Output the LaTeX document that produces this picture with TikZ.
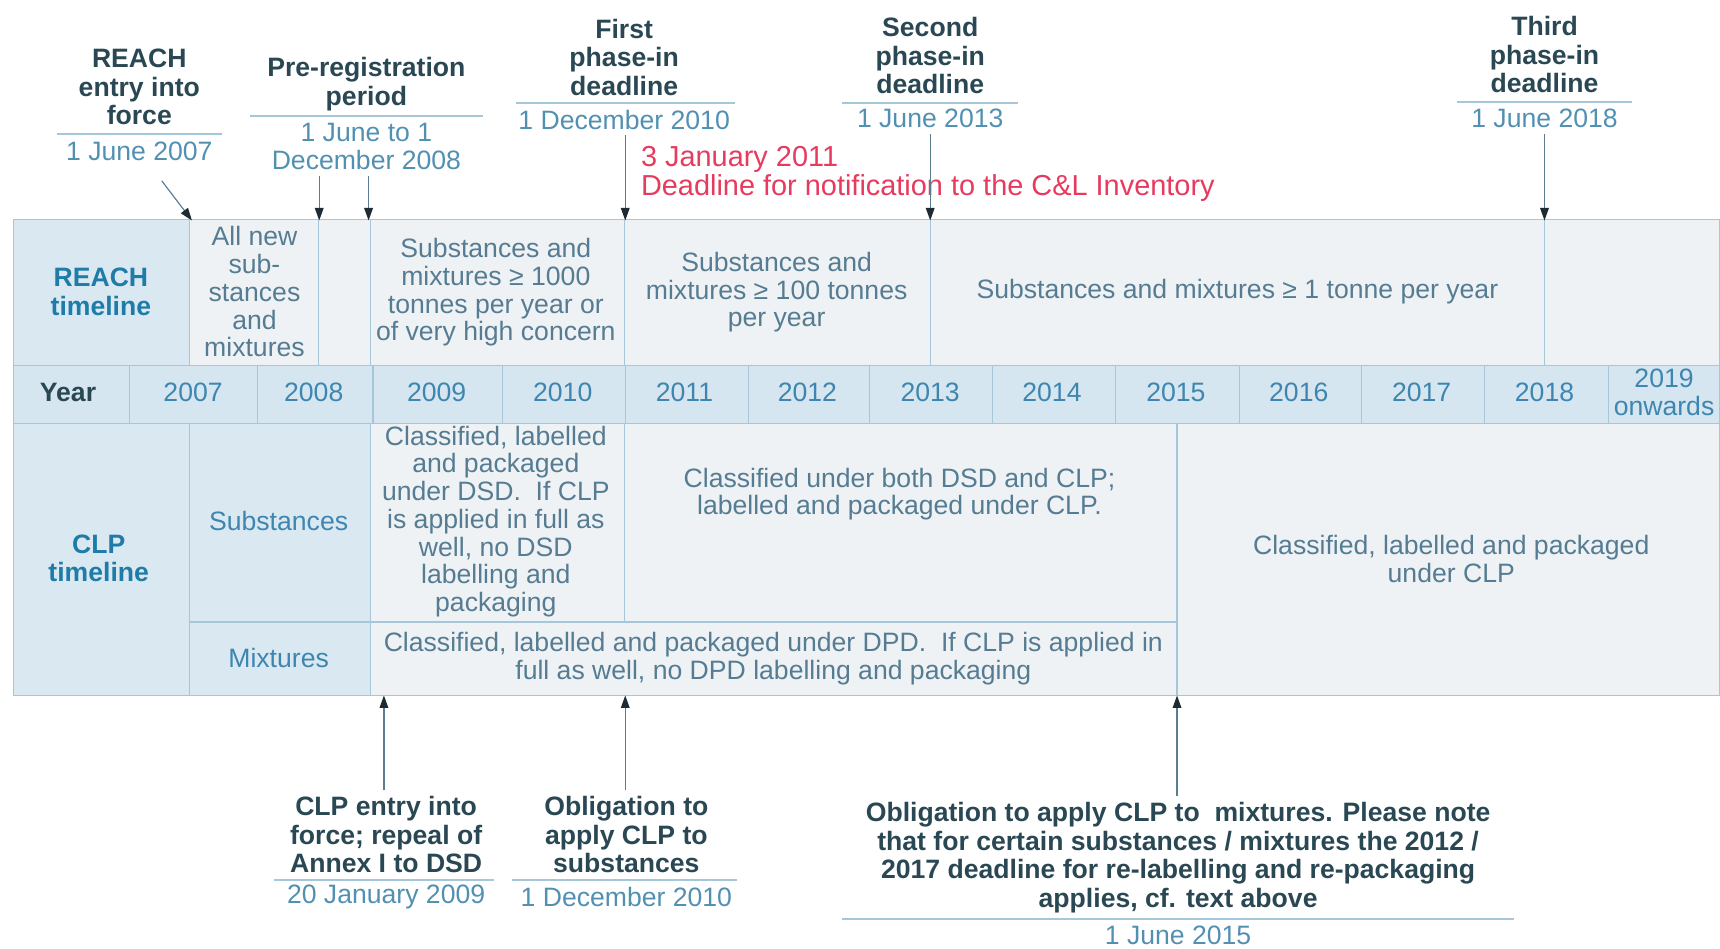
\documentclass[tikz,border=0pt]{standalone}
\usepackage{fontspec}
\setmainfont{Liberation Sans}
\usetikzlibrary{arrows.meta}
\definecolor{gridcol}{HTML}{A6C7DA}
\definecolor{bandfill}{HTML}{EFF2F4}
\definecolor{lblfill}{HTML}{DAE9F1}
\definecolor{yrfill}{HTML}{D5E6F0}
\definecolor{hdtxt}{HTML}{2A4854}
\definecolor{dttxt}{HTML}{5290B2}
\definecolor{celltxt}{HTML}{557C92}
\definecolor{yrtxt}{HTML}{3E86B0}
\definecolor{tltxt}{HTML}{1F7CA8}
\definecolor{redtxt}{HTML}{E63B5F}
\definecolor{arrcol}{HTML}{5B7D92}
\definecolor{tipcol}{HTML}{1E2B33}
\tikzstyle{hd}=[font=\fontsize{13.8}{14.8}\selectfont\bfseries,text=hdtxt,align=center,inner sep=0pt]
\tikzstyle{dt}=[font=\fontsize{13.8}{14.6}\selectfont,text=dttxt,align=center,inner sep=0pt]
\tikzstyle{cl}=[font=\fontsize{13.8}{14.4}\selectfont,text=celltxt,align=center,inner sep=0pt]
\tikzstyle{yr}=[font=\fontsize{13.8}{14.4}\selectfont,text=yrtxt,align=center,inner sep=0pt]
\tikzstyle{tl}=[font=\fontsize{13.8}{14.8}\selectfont\bfseries,text=tltxt,align=center,inner sep=0pt]
\tikzstyle{bx}=[draw=gridcol,line width=0.6pt,fill=bandfill]
\tikzstyle{lbx}=[draw=gridcol,line width=0.6pt,fill=lblfill]
\tikzstyle{ybx}=[draw=gridcol,line width=0.6pt,fill=yrfill]
\tikzstyle{rl}=[draw=gridcol,line width=0.9pt]
\tikzstyle{arr}=[draw=arrcol,line width=0.6pt,-{Triangle[length=6.5pt,width=4.5pt,color=tipcol]}]

\begin{document}
\begin{tikzpicture}[x=0.02cm,y=-0.02cm]
\useasboundingbox (0,0) rectangle (1568,865);
% REACH band
\draw[lbx] (12,200) rectangle (173,333);
\draw[bx] (173,200) rectangle (290,333);
\draw[bx] (290,200) rectangle (338,333);
\draw[bx] (338,200) rectangle (569,333);
\draw[bx] (569,200) rectangle (848,333);
\draw[bx] (848,200) rectangle (1408,333);
\draw[bx] (1408,200) rectangle (1568,333);
% year row
\draw[ybx] (12,333) rectangle (118,386); \draw[ybx] (118,333) rectangle (235,386); \draw[ybx] (235,333) rectangle (340,386);
\draw[ybx] (340,333) rectangle (458,386); \draw[ybx] (458,333) rectangle (570,386); \draw[ybx] (570,333) rectangle (682,386);
\draw[ybx] (682,333) rectangle (793,386); \draw[ybx] (793,333) rectangle (905,386); \draw[ybx] (905,333) rectangle (1017,386);
\draw[ybx] (1017,333) rectangle (1130,386); \draw[ybx] (1130,333) rectangle (1241,386); \draw[ybx] (1241,333) rectangle (1353,386);
\draw[ybx] (1353,333) rectangle (1466,386); \draw[ybx] (1466,333) rectangle (1568,386);
% CLP band
\draw[lbx] (12,386) rectangle (173,634);
\draw[lbx] (173,386) rectangle (338,567);
\draw[lbx] (173,567) rectangle (338,634);
\draw[bx] (338,386) rectangle (569,567);
\draw[bx] (569,386) rectangle (1073,567);
\draw[bx] (338,567) rectangle (1073,634);
\draw[bx] (1073,386) rectangle (1568,634);

\node[tl] (reach) at (92,266) {REACH\\timeline};
\node[cl] (allnew) at (232,266) {All new\\sub-\\stances\\and\\mixtures};
\node[cl] (t1000) at (452,266.5) {Substances and\\mixtures ≥ 1000\\tonnes per year or\\of very high concern};
\node[cl] (t100) at (708,266.5) {Substances and\\mixtures ≥ 100 tonnes\\per year};
\node[cl] (t1) at (1128,266) {Substances and mixtures ≥ 1 tonne per year};

\node[yr,text=hdtxt,font=\fontsize{13.8}{14.4}\selectfont\bfseries] (year) at (62,358) {Year};
\node[yr] (y07) at (176,358) {2007}; \node[yr] (y08) at (286,358) {2008}; \node[yr] (y09) at (398,358) {2009};
\node[yr] (y10) at (513,358) {2010}; \node[yr] (y11) at (624,358) {2011}; \node[yr] (y12) at (736,358) {2012};
\node[yr] (y13) at (848,358) {2013}; \node[yr] (y14) at (959,358) {2014}; \node[yr] (y15) at (1072,358) {2015};
\node[yr] (y16) at (1184,358) {2016}; \node[yr] (y17) at (1296,358) {2017}; \node[yr] (y18) at (1408,358) {2018};
\node[yr] (y19) at (1517,358) {2019\\onwards};

\node[tl] (clp) at (90,509) {CLP\\timeline};
\node[yr] (subst) at (254,475) {Substances};
\node[yr] (mixt) at (254,600) {Mixtures};
\node[cl] (dsd) at (452,475.5) {Classified, labelled\\and packaged\\under DSD.\ \ If CLP\\is applied in full as\\well, no DSD\\labelling and\\packaging};
\node[cl] (both) at (820,450.5) {Classified under both DSD and CLP;\\labelled and packaged under CLP.};
\node[cl] (dpd) at (705,600.5) {Classified, labelled and packaged under DPD.\ \ If CLP is applied in\\full as well, no DPD labelling and packaging};
\node[cl] (clpall) at (1323,509.5) {Classified, labelled and packaged\\under CLP};

% headings above
\node[hd] (h1) at (127,79.5) {REACH\\entry into\\force};
\draw[rl] (52,122) -- (202,122);
\node[dt] (d1) at (127,138) {1 June 2007};
\node[hd] (h2) at (334,76.5) {Pre-registration\\period};
\draw[rl] (228,106) -- (440,106);
\node[dt] (d2) at (334,133.5) {1 June to 1\\December 2008};
\node[hd] (h3) at (569,52) {First\\phase-in\\deadline};
\draw[rl] (470,94) -- (670,94);
\node[dt] (d3) at (569,109) {1 December 2010};
\node[hd] (h4) at (848,51) {Second\\phase-in\\deadline};
\draw[rl] (768,94) -- (928,94);
\node[dt] (d4) at (848,108) {1 June 2013};
\node[hd] (h5) at (1408,50) {Third\\phase-in\\deadline};
\draw[rl] (1328,93) -- (1488,93);
\node[dt] (d5) at (1408,108) {1 June 2018};
\node[cl,text=redtxt,align=left,anchor=west,font=\fontsize{15}{15.4}\selectfont] (inv) at (584,158.5) {3 January 2011\\Deadline for notification to the C\&L Inventory};

\coordinate (a1) at (175,201); \coordinate (a2) at (291,201); \coordinate (a3) at (336,201);
\coordinate (a4) at (570,201); \coordinate (a5) at (848,201); \coordinate (a6) at (1408,201);
\draw[arr,shorten <=0.45cm] (d1) -- (a1);
\draw[arr,shorten <=3pt] (a2 |- d2.south) -- (a2);
\draw[arr,shorten <=3pt] (a3 |- d2.south) -- (a3);
\draw[arr,shorten <=3pt] (a4 |- d3.south) -- (a4);
\draw[arr,shorten <=3pt] (a5 |- d4.south) -- (a5);
\draw[arr,shorten <=3pt] (a6 |- d5.south) -- (a6);

% headings below
\node[hd] (h6) at (352,761) {CLP entry into\\force; repeal of\\Annex I to DSD};
\draw[rl] (250,802) -- (450,802);
\node[dt] (d6) at (352,818) {20 January 2009};
\node[hd] (h7) at (571,761) {Obligation to\\apply CLP to\\substances};
\draw[rl] (467,802) -- (672,802);
\node[dt] (d7) at (571,818) {1 December 2010};
\node[hd] (h8) at (1074,782) {Obligation to apply CLP to\ \ mixtures. Please note\\that for certain substances / mixtures the 2012 /\\2017 deadline for re-labelling and re-packaging\\applies, cf. text above};
\draw[rl] (768,838) -- (1380,838);
\node[dt] (d8) at (1074,853) {1 June 2015};

\coordinate (b1) at (350,634); \coordinate (b2) at (570,634); \coordinate (b3) at (1073,634);
\draw[arr,shorten <=3pt] (b1 |- h6.north) -- (b1);
\draw[arr,shorten <=3pt] (b2 |- h7.north) -- (b2);
\draw[arr,shorten <=3pt] (b3 |- h8.north) -- (b3);
\end{tikzpicture}
\end{document}
